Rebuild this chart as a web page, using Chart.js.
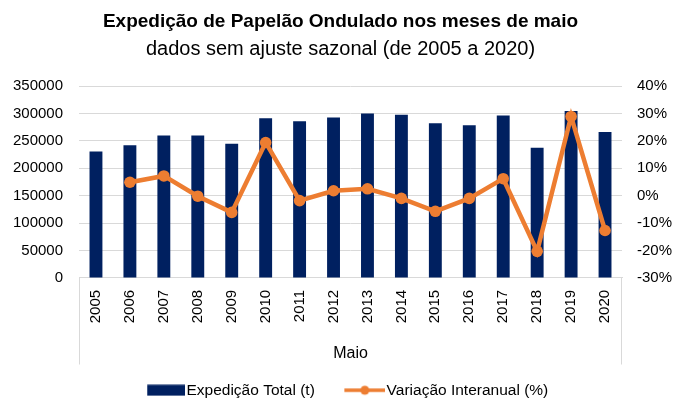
<!DOCTYPE html>
<html>
<head>
<meta charset="utf-8">
<script src="https://cdn.jsdelivr.net/npm/chart.js@4"></script>
<style>
  html, body { margin: 0; padding: 0; background: #fff; }
  #wrap { width: 673px; height: 400px; }
</style>
</head>
<body>
<div id="wrap"><canvas id="expchart" width="673" height="400"></canvas></div>
<script>
// data
var anos = ["2005", "2006", "2007", "2008", "2009", "2010", "2011", "2012",
            "2013", "2014", "2015", "2016", "2017", "2018", "2019", "2020"];
var expedicao = [230500, 242000, 259600, 259600, 244500, 291200, 285700, 292400,
                 299700, 297800, 282000, 278400, 296000, 237200, 304500, 266300];
var variacao = [null, 4.9, 7.2, -0.2, -6.1, 19.4, -1.8, 1.8,
                2.5, -1.0, -5.7, -1.0, 6.2, -20.3, 28.9, -12.7];

var azul = "#002060";
var laranja = "#ED7D31";
var fonte = "'Liberation Sans', Arial, sans-serif";

// legend symbols: drawn at the right end so they sit close to the text
var symW = 46;
function barSymbol() {
  var c = document.createElement("canvas");
  c.width = symW + 13; c.height = 12;
  var g = c.getContext("2d");
  g.fillStyle = azul;
  g.fillRect(c.width - 38, 0.5, 38, 11);
  return c;
}
function lineSymbol() {
  var c = document.createElement("canvas");
  c.width = symW + 13; c.height = 12;
  var g = c.getContext("2d");
  var x0 = c.width - 41;
  g.strokeStyle = laranja;
  g.lineWidth = 3.5;
  g.beginPath(); g.moveTo(x0, 6); g.lineTo(c.width, 6); g.stroke();
  g.fillStyle = laranja;
  g.beginPath(); g.arc(x0 + 20.5, 6, 4.5, 0, Math.PI * 2); g.fill();
  return c;
}

// vertical lines of the category box under the plot
var categoryBox = {
  id: "categoryBox",
  afterDraw: function(chart) {
    var a = chart.chartArea, x = chart.scales.x, ctx = chart.ctx;
    ctx.save();
    ctx.strokeStyle = "#D9D9D9";
    ctx.lineWidth = 1;
    ctx.beginPath();
    ctx.moveTo(a.left + 0.5, a.bottom); ctx.lineTo(a.left + 0.5, x.bottom);
    ctx.moveTo(a.right - 0.5, a.bottom); ctx.lineTo(a.right - 0.5, x.bottom);
    ctx.stroke();
    ctx.restore();
  }
};

Chart.defaults.font.family = fonte;
Chart.defaults.color = "#000";

var ctx = document.getElementById("expchart").getContext("2d");
var expChart = new Chart(ctx, {
  type: "bar",
  data: {
    labels: anos,
    datasets: [
      {
        type: "line",
        label: "Variação Interanual (%)",
        data: variacao,
        yAxisID: "y2",
        borderColor: laranja,
        backgroundColor: laranja,
        borderWidth: 4.5,
        pointRadius: 5.8,
        pointHoverRadius: 5.8,
        pointBackgroundColor: laranja,
        pointBorderWidth: 0,
        tension: 0,
        order: 1
      },
      {
        label: "Expedição Total (t)",
        data: expedicao,
        yAxisID: "y",
        backgroundColor: azul,
        barPercentage: 0.38,
        categoryPercentage: 1,
        order: 2
      }
    ]
  },
  options: {
    responsive: false,
    animation: false,
    layout: { padding: { left: 8, right: 0, top: 12, bottom: -8 } },
    plugins: {
      title: {
        display: true,
        text: "Expedição de Papelão Ondulado nos meses de maio",
        font: { size: 19, weight: "bold", lineHeight: 1 },
        padding: { top: 0, bottom: 8 }
      },
      subtitle: {
        display: true,
        text: "dados sem ajuste sazonal (de 2005 a 2020)",
        font: { size: 20, lineHeight: 1 },
        padding: { top: 0, bottom: 27 }
      },
      legend: {
        position: "bottom",
        reverse: true,
        labels: {
          usePointStyle: true,
          pointStyleWidth: symW,
          font: { size: 15.5 },
          padding: 18,
          generateLabels: function(chart) {
            return chart.data.datasets.map(function(ds, i) {
              return {
                text: ds.label,
                datasetIndex: i,
                pointStyle: ds.type === "line" ? lineSymbol() : barSymbol(),
                fillStyle: ds.backgroundColor,
                strokeStyle: ds.backgroundColor,
                lineWidth: 0,
                hidden: false
              };
            });
          }
        }
      },
      tooltip: { enabled: false }
    },
    scales: {
      x: {
        grid: { display: false, drawTicks: false },
        border: { display: true, color: "#D9D9D9" },
        ticks: { maxRotation: 90, minRotation: 90, font: { size: 15 }, padding: 12 },
        title: { display: true, text: "Maio", font: { size: 16 }, padding: { top: 9, bottom: 1 } }
      },
      y: {
        position: "left",
        min: 0,
        max: 350000,
        afterFit: function(scale) { scale.width = 71; },
        ticks: {
          stepSize: 50000,
          font: { size: 15 },
          padding: 16,
          callback: function(v) { return String(v); }
        },
        grid: { color: "#D9D9D9", drawTicks: false },
        border: { display: false }
      },
      y2: {
        position: "right",
        min: -30,
        max: 40,
        afterFit: function(scale) { scale.width = 51; },
        ticks: {
          stepSize: 10,
          font: { size: 15 },
          padding: 15,
          callback: function(v) { return v + "%"; }
        },
        grid: { display: false, drawTicks: false },
        border: { display: false }
      }
    }
  },
  plugins: [categoryBox]
});
</script>
</body>
</html>
